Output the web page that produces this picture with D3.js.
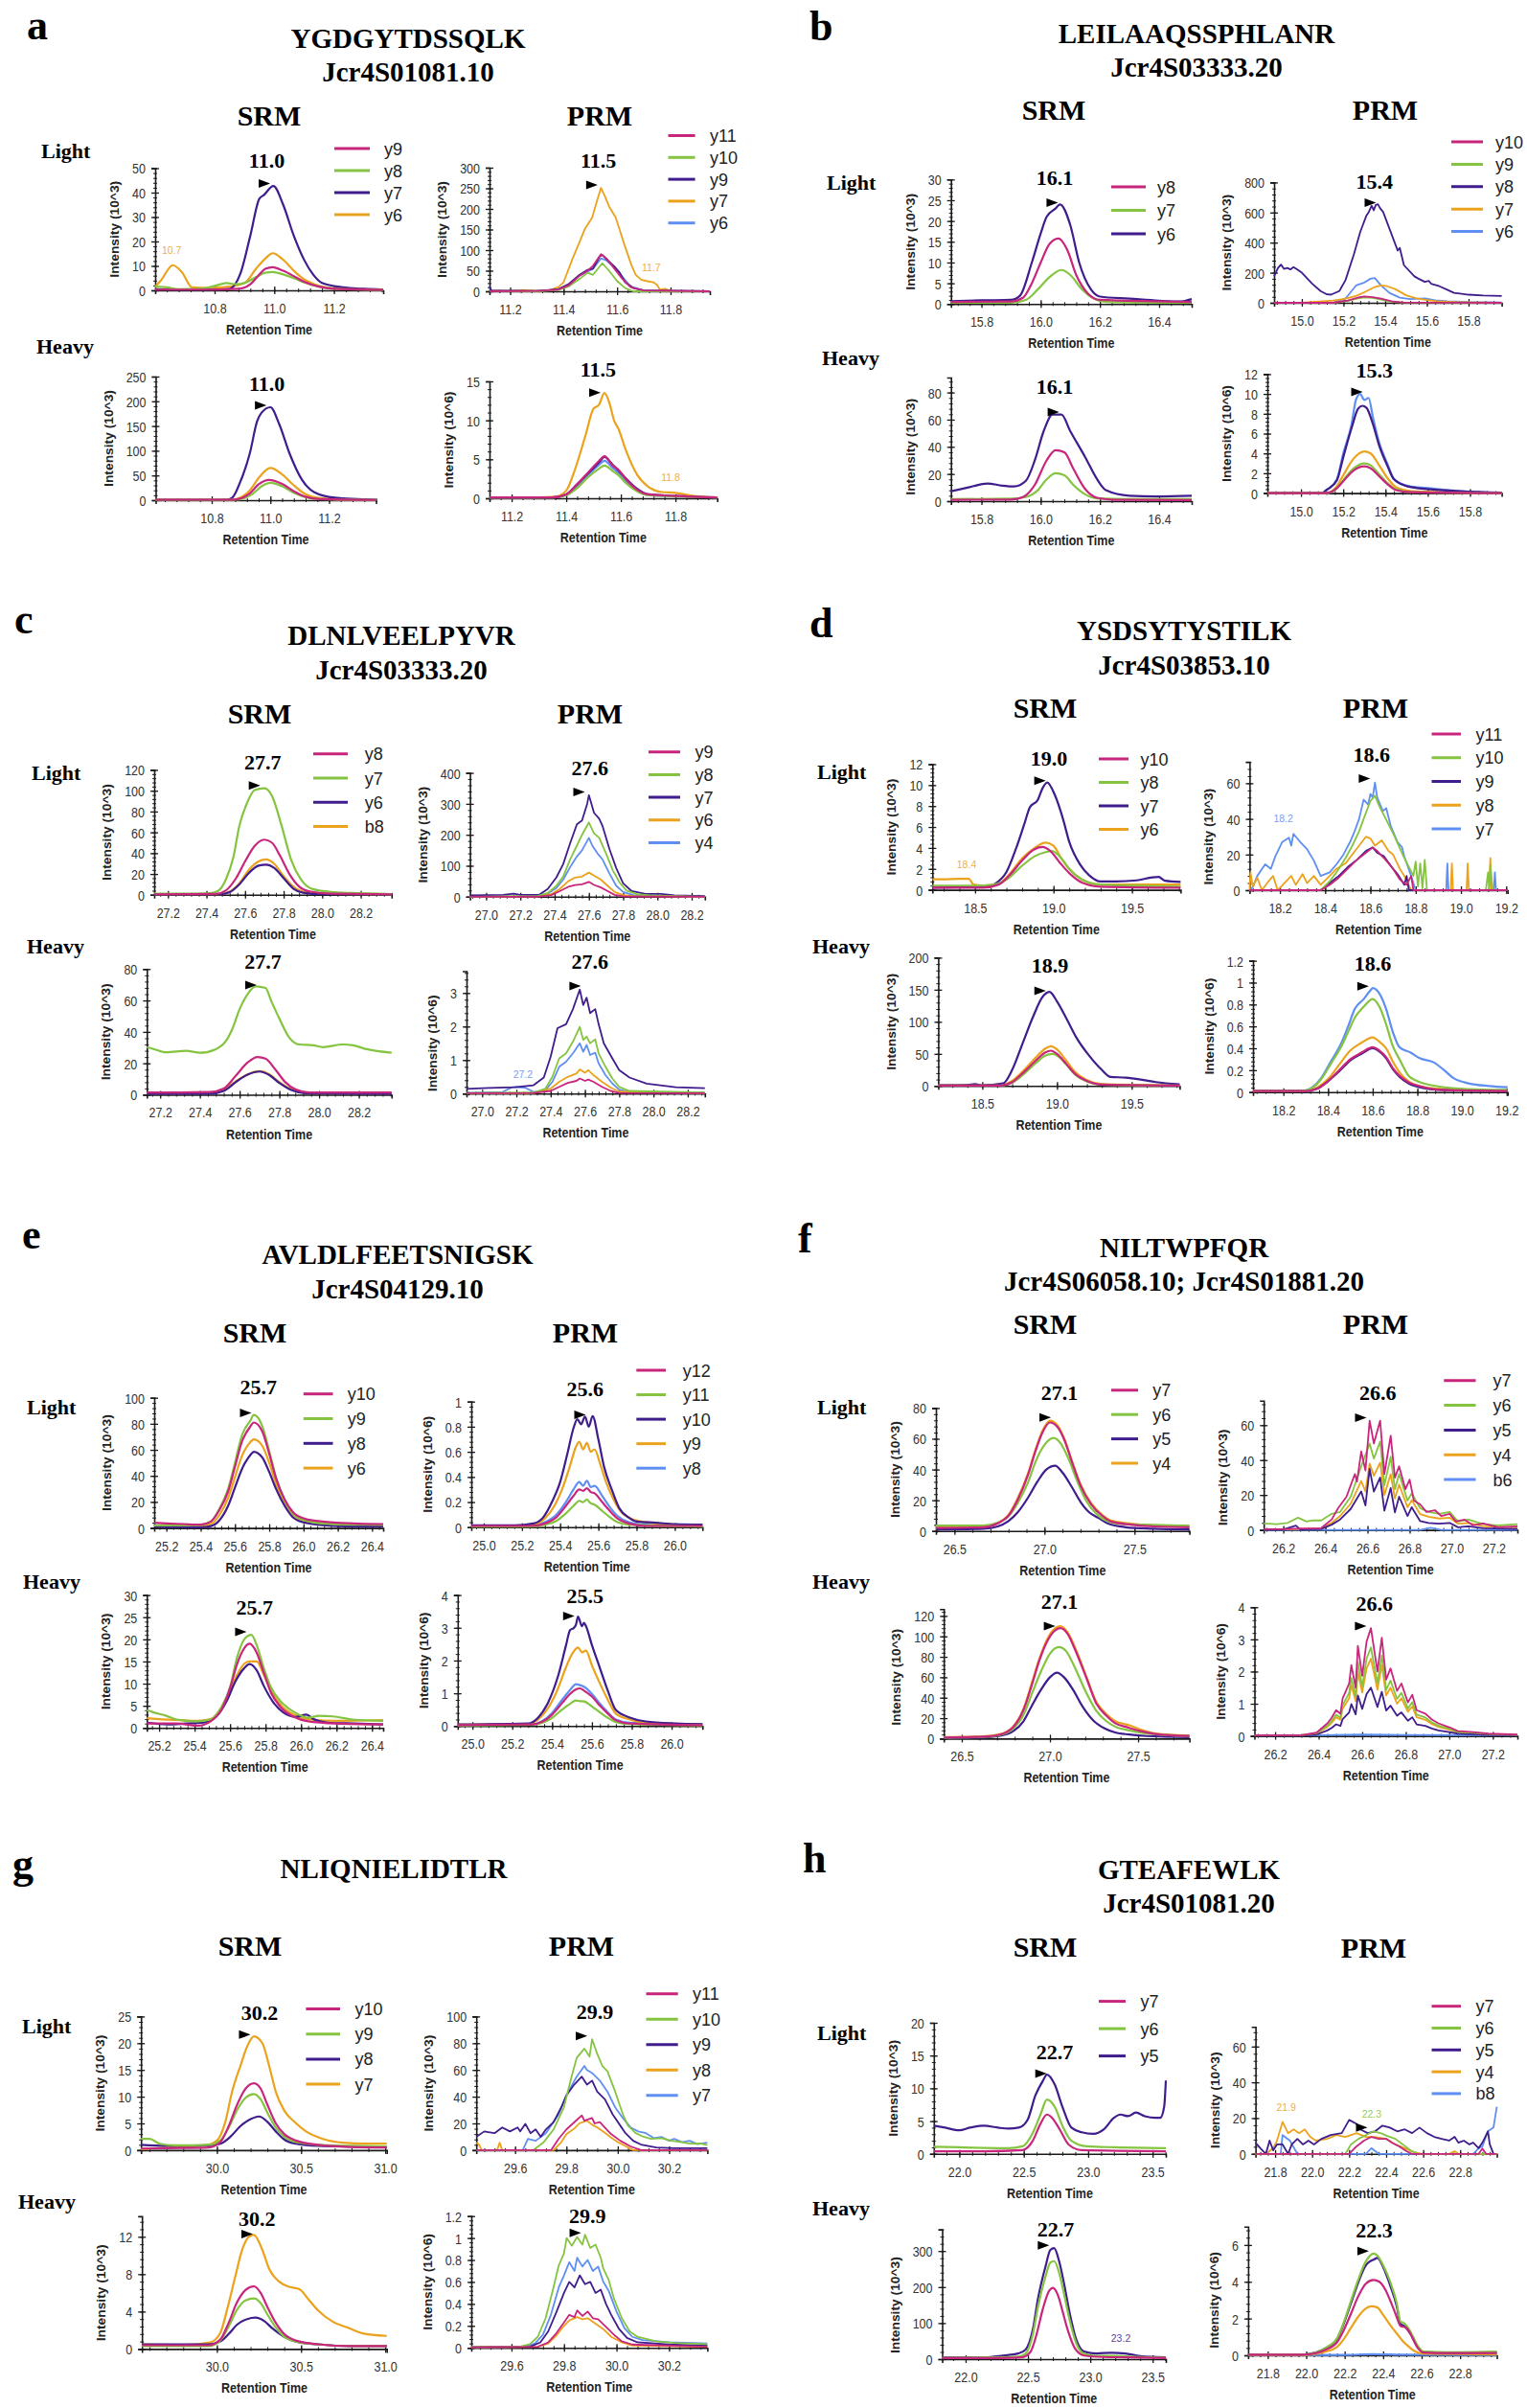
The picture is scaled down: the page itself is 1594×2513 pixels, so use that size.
<!DOCTYPE html>
<html><head><meta charset="utf-8">
<script src="https://cdn.jsdelivr.net/npm/d3@7"></script>
<style>body{margin:0;background:#fff}svg{display:block}</style>
</head><body>
<svg id="c" width="1594" height="2513"></svg>
<script>
// ---------------- DATA: [retention time, intensity] ----------------
// Panel a
const aSL_y9=[[10.601,0.3],[10.8,0.3],[10.88,0.6],[10.92,2.5],[10.95,6.5],[10.97,8.8],[10.995,9.5],[11.03,8],[11.07,5.5],[11.1,3.5],[11.15,1.5],[11.2,0.6],[11.365,0.2]];
const aSL_y8=[[10.601,1.5],[10.64,1.2],[10.68,0.5],[10.75,0.6],[10.8,1.8],[10.84,3],[10.87,2.5],[10.9,3],[10.94,5.5],[10.97,7.2],[10.995,7.5],[11.03,6.5],[11.07,4.8],[11.1,3.2],[11.15,1.5],[11.2,0.6],[11.365,0.2]];
const aSL_y7=[[10.601,0.5],[10.7,0.3],[10.8,0.3],[10.85,0.6],[10.886,6.7],[10.92,22.5],[10.95,37.5],[10.965,39],[10.997,42.7],[11.03,35],[11.065,22.5],[11.1,12.5],[11.13,6.5],[11.16,3],[11.23,1.2],[11.3,0.6],[11.365,0.3]];
const aSL_y6=[[10.601,1.5],[10.62,4],[10.66,10.3],[10.69,7.5],[10.725,1.2],[10.78,1],[10.85,1.5],[10.9,3],[10.94,9],[10.97,13],[10.995,15.2],[11.03,12.5],[11.07,7.5],[11.1,4.5],[11.15,1.8],[11.2,0.8],[11.365,0.3]];
const aPL_y11=[[11.123,0],[11.3,1],[11.38,4],[11.42,15],[11.46,38],[11.49,50],[11.51,62],[11.54,90],[11.56,80],[11.59,55],[11.62,30],[11.65,10],[11.7,2],[11.947,0]];
const aPL_y10=[[11.123,0],[11.3,0],[11.38,3],[11.42,12],[11.46,30],[11.49,45],[11.51,40],[11.545,68],[11.57,50],[11.6,25],[11.63,8],[11.66,0],[11.947,0]];
const aPL_y9=[[11.123,12],[11.13,2],[11.3,1],[11.38,5],[11.42,18],[11.46,40],[11.49,52],[11.51,55],[11.535,85],[11.545,88],[11.56,78],[11.59,60],[11.61,45],[11.63,22],[11.66,8],[11.7,2],[11.947,0]];
const aPL_y7=[[11.123,2],[11.2,1],[11.25,3],[11.3,1],[11.35,3],[11.38,10],[11.4,22],[11.434,80],[11.46,120],[11.48,152],[11.507,179],[11.525,220],[11.54,251],[11.555,230],[11.57,206],[11.595,179],[11.626,116],[11.654,63],[11.67,40],[11.69,28],[11.71,25],[11.736,22],[11.75,15],[11.76,4],[11.78,6],[11.8,1],[11.947,0]];
const aPL_y6=[[11.123,10],[11.13,1],[11.3,1],[11.38,4],[11.42,16],[11.46,38],[11.49,48],[11.51,55],[11.54,80],[11.56,75],[11.59,58],[11.62,35],[11.65,12],[11.7,2],[11.947,0]];
const aSH_y9=[[10.609,1],[10.87,1],[10.9,4],[10.93,14],[10.96,32],[10.995,41],[11.04,33],[11.08,18],[11.12,7],[11.17,2],[11.36,0.5]];
const aSH_y8=[[10.609,1],[10.88,1],[10.91,4],[10.94,13],[10.97,28],[11.0,35],[11.04,28],[11.08,15],[11.12,6],[11.17,2],[11.36,0.5]];
const aSH_y7=[[10.609,1],[10.85,1],[10.87,5],[10.896,35],[10.93,95],[10.955,160],[10.97,177],[11.0,188],[11.03,154],[11.065,95],[11.107,42],[11.15,16],[11.22,5],[11.36,1]];
const aSH_y6=[[10.609,1],[10.87,1],[10.9,6],[10.93,20],[10.96,45],[11.0,65],[11.04,52],[11.08,30],[11.12,12],[11.17,4],[11.25,1],[11.36,0.5]];
const aPH_y11=[[11.119,0.1],[11.35,0.1],[11.4,0.5],[11.44,1.8],[11.48,3.3],[11.52,4.8],[11.54,5.4],[11.57,4.2],[11.59,3.7],[11.62,2.4],[11.66,1.1],[11.7,0.5],[11.8,0.3],[11.953,0.1]];
const aPH_y10=[[11.119,0.1],[11.35,0.1],[11.4,0.4],[11.44,1.3],[11.48,2.7],[11.52,3.8],[11.54,4.2],[11.57,3.5],[11.59,3],[11.62,1.9],[11.66,0.9],[11.7,0.4],[11.953,0.1]];
const aPH_y9=[[11.119,0.1],[11.35,0.1],[11.4,0.5],[11.44,1.8],[11.48,3.2],[11.52,4.6],[11.54,5.3],[11.57,4.3],[11.59,3.6],[11.62,2.5],[11.66,1.2],[11.7,0.5],[11.8,0.3],[11.953,0.1]];
const aPH_y7=[[11.119,0.1],[11.3,0.1],[11.36,0.2],[11.4,1],[11.43,3.5],[11.47,8],[11.5,11.5],[11.52,12],[11.54,13.5],[11.56,12],[11.575,10],[11.59,9],[11.62,6],[11.66,3],[11.7,1.5],[11.75,0.8],[11.8,0.7],[11.85,0.4],[11.9,0.2],[11.953,0.1]];
const aPH_y6=[[11.119,0.1],[11.35,0.1],[11.4,0.4],[11.44,1.5],[11.48,3],[11.52,4.3],[11.54,4.8],[11.57,3.9],[11.59,3.3],[11.62,2.2],[11.66,1],[11.7,0.4],[11.953,0.1]];
// Panel b
const bSL_y8=[[15.697,0.5],[15.9,0.6],[15.94,1.5],[15.97,5],[16.0,10],[16.03,14.5],[16.06,15.8],[16.09,13],[16.12,7],[16.16,2.5],[16.2,1],[16.51,0.5]];
const bSL_y7=[[15.697,0.3],[15.9,0.3],[15.95,1],[15.99,3.5],[16.03,6.5],[16.07,8.2],[16.1,7],[16.14,3.5],[16.18,1.3],[16.22,0.5],[16.51,0.3]];
const bSL_y6=[[15.697,0.7],[15.8,0.9],[15.9,1],[15.93,2],[15.97,10],[16.0,17],[16.02,21],[16.05,23],[16.065,24],[16.1,19],[16.13,10],[16.17,3.5],[16.2,1.8],[16.3,1.3],[16.4,0.8],[16.47,0.6],[16.51,1.2]];
const bPL_y10=[[14.867,0],[15.15,0],[15.22,15],[15.27,35],[15.3,42],[15.34,38],[15.38,28],[15.43,10],[15.48,2],[15.959,0]];
const bPL_y9=[[14.867,0],[15.15,0],[15.22,12],[15.27,30],[15.3,36],[15.34,33],[15.38,22],[15.43,8],[15.48,2],[15.959,0]];
const bPL_y8=[[14.867,176],[14.885,230],[14.9,254],[14.915,225],[14.93,232],[14.945,222],[14.96,237],[14.98,220],[15.0,200],[15.05,127],[15.09,78],[15.12,56],[15.14,54],[15.18,78],[15.21,152],[15.25,323],[15.28,470],[15.31,580],[15.32,600],[15.335,645],[15.345,615],[15.355,650],[15.365,655],[15.375,630],[15.39,604],[15.42,494],[15.46,347],[15.47,365],[15.49,250],[15.54,176],[15.56,160],[15.59,139],[15.61,145],[15.62,127],[15.66,110],[15.7,85],[15.73,66],[15.8,54],[15.87,49],[15.959,46]];
const bPL_y7=[[14.867,0],[15.0,0],[15.05,5],[15.15,15],[15.2,25],[15.26,45],[15.3,70],[15.35,105],[15.38,115],[15.41,110],[15.45,90],[15.5,50],[15.55,30],[15.6,18],[15.65,10],[15.75,4],[15.959,0]];
const bPL_y6=[[14.867,0],[15.15,0],[15.21,29],[15.26,115],[15.3,135],[15.33,160],[15.35,165],[15.38,115],[15.42,66],[15.47,34],[15.52,25],[15.59,29],[15.64,17],[15.7,10],[15.8,5],[15.959,2]];
const bSH_y8=[[15.697,1],[15.9,1.2],[15.94,3],[15.98,12],[16.02,30],[16.05,37.5],[16.08,36],[16.11,24],[16.15,9],[16.19,2.5],[16.25,1],[16.51,0.8]];
const bSH_y7=[[15.697,1.5],[15.9,1.8],[15.95,3],[15.99,8],[16.02,16],[16.05,20.5],[16.08,19],[16.11,12],[16.15,5],[16.19,2],[16.3,1.5],[16.51,1.5]];
const bSH_y6=[[15.697,7.3],[15.76,10.3],[15.82,13],[15.87,11.4],[15.91,10.8],[15.95,15],[15.98,30],[16.01,51.5],[16.04,63.7],[16.07,63.7],[16.1,51.5],[16.15,32.5],[16.19,16.3],[16.22,8.1],[16.3,4],[16.39,3.5],[16.51,4]];
const bPH_y10=[[14.841,0],[15.12,0],[15.17,0.5],[15.2,1.2],[15.25,2.3],[15.3,2.7],[15.33,2.5],[15.37,1.7],[15.41,0.9],[15.45,0.3],[15.52,0.1],[15.95,0]];
const bPH_y9=[[14.841,0],[15.12,0],[15.17,0.5],[15.2,1.3],[15.25,2.5],[15.3,3],[15.33,2.8],[15.37,1.9],[15.41,1],[15.45,0.4],[15.52,0.1],[15.95,0]];
const bPH_y8=[[14.841,0],[15.1,0],[15.12,0.3],[15.17,1.3],[15.2,3.6],[15.24,6.6],[15.27,8.5],[15.29,8.8],[15.31,8.6],[15.34,7],[15.37,4.8],[15.41,2.7],[15.44,1.4],[15.5,0.7],[15.6,0.4],[15.95,0.05]];
const bPH_y7=[[14.841,0],[15.12,0],[15.17,0.7],[15.2,1.8],[15.25,3.5],[15.3,4.2],[15.33,4],[15.37,2.8],[15.41,1.5],[15.45,0.6],[15.52,0.2],[15.95,0]];
const bPH_y6=[[14.841,0],[15.1,0],[15.12,0.3],[15.17,1.4],[15.2,4],[15.24,7],[15.26,9.4],[15.28,10],[15.3,9.4],[15.32,9.6],[15.34,7.7],[15.37,5.1],[15.41,2.9],[15.44,1.4],[15.51,0.7],[15.6,0.5],[15.7,0.3],[15.81,0.1],[15.95,0.05]];
// Panel c
const cSL_y8=[[27.129,0.5],[27.45,0.8],[27.5,4],[27.55,15],[27.6,32],[27.65,47],[27.7,53],[27.74,50],[27.78,38],[27.83,20],[27.88,8],[27.94,3],[28.05,1],[28.36,0.5]];
const cSL_y7=[[27.129,1],[27.3,1],[27.42,1.5],[27.46,3.7],[27.5,14.6],[27.54,36.6],[27.57,66],[27.61,88],[27.65,100.6],[27.7,102.4],[27.74,95],[27.79,66],[27.84,33],[27.89,14.6],[27.95,5.5],[28.06,2.6],[28.2,1.5],[28.36,0.7]];
const cSL_y6=[[27.129,0.3],[27.47,0.5],[27.52,2.5],[27.57,10],[27.62,21],[27.67,28],[27.71,29],[27.75,26],[27.8,16],[27.85,6],[27.9,2],[28.0,0.5],[28.36,0.3]];
const cSL_b8=[[27.129,0.3],[27.47,0.5],[27.52,3],[27.57,11],[27.62,24],[27.67,32],[27.71,34],[27.75,30],[27.8,18],[27.85,8],[27.9,3],[28.0,1],[28.36,0.3]];
const cPL_y9=[[26.906,0],[27.3,0],[27.38,5],[27.43,18],[27.48,32],[27.52,38],[27.56,40],[27.6,48],[27.63,38],[27.67,30],[27.71,18],[27.75,6],[27.8,1],[28.277,0]];
const cPL_y8=[[26.906,0],[27.3,2],[27.36,12],[27.41,35],[27.45,65],[27.49,120],[27.53,165],[27.56,200],[27.6,240],[27.63,205],[27.66,190],[27.7,140],[27.74,85],[27.78,45],[27.82,20],[27.88,8],[27.95,4],[28.277,0]];
const cPL_y7=[[26.906,4],[27.0,5],[27.1,6],[27.16,10],[27.2,6],[27.31,6],[27.36,25],[27.41,62],[27.45,105],[27.49,172],[27.53,234],[27.56,246],[27.59,300],[27.6,328],[27.63,271],[27.66,252],[27.68,228],[27.72,154],[27.76,92],[27.8,43],[27.85,18],[27.93,9],[28.02,9],[28.1,4],[28.277,2]];
const cPL_y6=[[26.906,0],[27.3,1],[27.38,8],[27.43,25],[27.48,50],[27.52,62],[27.56,65],[27.6,78],[27.63,68],[27.67,55],[27.71,35],[27.75,15],[27.8,5],[27.86,2],[28.277,0]];
const cPL_y4=[[26.906,0],[27.3,2],[27.36,10],[27.41,28],[27.45,55],[27.49,95],[27.53,130],[27.56,150],[27.6,190],[27.62,165],[27.65,140],[27.68,120],[27.72,75],[27.76,35],[27.8,15],[27.86,5],[28.277,0]];
const cSH_y8=[[27.133,1.5],[27.3,1.5],[27.45,1.8],[27.52,4],[27.58,12],[27.64,20.5],[27.69,24],[27.73,23],[27.78,16],[27.83,8],[27.88,3.5],[27.95,1.5],[28.365,1.5]];
const cSH_y7=[[27.133,30.3],[27.17,29],[27.23,27],[27.33,28],[27.4,26.7],[27.48,29],[27.53,34],[27.565,42.4],[27.6,54.5],[27.64,64],[27.68,69],[27.73,68],[27.76,59.4],[27.8,48.5],[27.85,36.4],[27.9,32],[27.97,31.5],[28.02,30.3],[28.12,32],[28.17,31.5],[28.24,29],[28.365,26.7]];
const cSH_y6=[[27.133,0.5],[27.45,0.7],[27.52,2.5],[27.58,8],[27.64,12.8],[27.7,14.8],[27.75,12.5],[27.8,7.5],[27.86,3],[27.93,1],[28.365,0.5]];
const cSH_b8=[[27.133,0.8],[27.45,1],[27.52,3],[27.58,8.5],[27.64,13],[27.7,15],[27.75,13],[27.8,8],[27.86,3.5],[27.93,1.2],[28.365,0.8]];
const cPH_y9=[[26.909,0.01],[27.3,0.02],[27.4,0.08],[27.45,0.2],[27.5,0.32],[27.55,0.38],[27.57,0.45],[27.6,0.38],[27.62,0.42],[27.65,0.35],[27.7,0.2],[27.75,0.08],[27.8,0.02],[28.3,0.01]];
const cPH_y8=[[26.909,0.02],[27.3,0.03],[27.37,0.15],[27.41,0.5],[27.45,1.05],[27.49,1.2],[27.53,1.55],[27.57,1.99],[27.59,1.6],[27.61,1.7],[27.63,1.5],[27.66,1.62],[27.68,1.2],[27.72,0.8],[27.76,0.45],[27.8,0.2],[27.86,0.08],[28.3,0.03]];
const cPH_y7=[[26.909,0.14],[27.04,0.17],[27.19,0.19],[27.3,0.25],[27.36,0.48],[27.4,1.1],[27.44,1.95],[27.49,2.07],[27.53,2.52],[27.57,3.1],[27.59,2.64],[27.61,2.86],[27.63,2.4],[27.66,2.52],[27.68,2.07],[27.71,1.5],[27.76,1.05],[27.8,0.7],[27.86,0.48],[27.96,0.3],[28.13,0.19],[28.3,0.16]];
const cPH_y6=[[26.909,0.01],[27.3,0.02],[27.4,0.15],[27.45,0.35],[27.5,0.5],[27.55,0.6],[27.57,0.72],[27.6,0.62],[27.62,0.7],[27.65,0.55],[27.7,0.35],[27.75,0.18],[27.8,0.06],[28.3,0.01]];
const cPH_y4=[[26.909,0.02],[27.12,0.05],[27.18,0.2],[27.25,0.18],[27.3,0.05],[27.37,0.1],[27.41,0.35],[27.45,0.8],[27.49,0.95],[27.53,1.2],[27.57,1.5],[27.59,1.25],[27.61,1.45],[27.63,1.15],[27.66,1.22],[27.68,0.9],[27.72,0.55],[27.76,0.3],[27.8,0.12],[27.86,0.05],[28.3,0.02]];
// Panel d
const dSL_y10=[[18.228,0.2],[18.55,0.2],[18.65,0.5],[18.72,1.4],[18.8,2.8],[18.87,3.8],[18.93,4.1],[18.98,3.7],[19.04,2.6],[19.1,1.6],[19.18,0.7],[19.3,0.3],[19.81,0.2]];
const dSL_y8=[[18.228,0.4],[18.55,0.4],[18.65,0.6],[18.72,1.2],[18.8,2.3],[18.88,3.2],[18.95,3.6],[18.99,3.7],[19.05,3],[19.1,2],[19.18,1],[19.3,0.5],[19.81,0.3]];
const dSL_y7=[[18.228,0.2],[18.4,0.25],[18.56,0.25],[18.63,0.6],[18.7,1.7],[18.76,3.9],[18.81,6.1],[18.85,7.9],[18.9,8.6],[18.93,9.7],[18.96,10.25],[19.01,9],[19.06,6.8],[19.1,4.6],[19.17,2.4],[19.23,1.35],[19.3,0.8],[19.4,0.8],[19.53,0.9],[19.62,1.16],[19.67,1.24],[19.71,0.87],[19.81,0.76]];
const dSL_y6=[[18.228,1],[18.3,1],[18.4,1.05],[18.46,1.05],[18.49,0.5],[18.55,0.4],[18.65,0.6],[18.72,1.5],[18.8,3],[18.88,4],[18.95,4.5],[19.0,4.2],[19.05,3],[19.1,2],[19.18,1],[19.3,0.5],[19.6,0.5],[19.81,0.5]];
const dPL_y11=[[18.066,0],[18.38,0],[18.42,3],[18.46,7],[18.5,12],[18.54,17],[18.58,21],[18.61,24],[18.63,22],[18.66,18],[18.7,12],[18.73,6],[18.76,3],[18.78,8],[18.79,0],[19.206,0]];
const dPL_y10=[[18.066,0],[18.38,0],[18.42,5],[18.45,10],[18.49,18],[18.52,25],[18.55,33],[18.57,40],[18.6,50],[18.62,53],[18.64,47],[18.66,42],[18.7,32],[18.75,18],[18.79,8],[18.8,16],[18.81,2],[18.82,15],[18.83,1],[18.84,17],[18.85,0],[19.11,0],[19.12,10],[19.125,0],[19.13,14],[19.14,0],[19.206,0]];
const dPL_y9=[[18.066,0],[18.38,0],[18.42,4],[18.46,8],[18.5,13],[18.54,17],[18.58,22],[18.61,24],[18.63,21],[18.66,19],[18.7,12],[18.72,9],[18.75,3],[18.76,8],[18.77,0],[19.206,0]];
const dPL_y8=[[18.066,0],[18.07,10],[18.08,2],[18.1,7],[18.12,0],[18.15,5],[18.17,8],[18.19,0],[18.22,4],[18.25,8],[18.27,3],[18.3,9],[18.32,4],[18.35,8],[18.38,3],[18.42,8],[18.45,12],[18.49,15],[18.52,20],[18.55,25],[18.58,30],[18.6,29],[18.62,25],[18.65,28],[18.68,22],[18.7,20],[18.73,12],[18.75,8],[18.78,0],[18.955,0],[18.96,15],[18.965,0],[19.025,0],[19.03,15],[19.035,0],[19.125,0],[19.13,18],[19.135,0],[19.206,0]];
const dPL_y7=[[18.066,0],[18.08,1.7],[18.1,8],[18.135,14.5],[18.16,12],[18.18,19],[18.21,27],[18.24,29.5],[18.25,25],[18.26,31.6],[18.29,27],[18.32,23],[18.35,16.6],[18.38,8],[18.42,10],[18.45,14.5],[18.48,19.8],[18.51,27],[18.53,33],[18.55,40],[18.57,50.8],[18.59,48],[18.6,54],[18.61,52],[18.62,60.4],[18.63,52],[18.655,44.4],[18.67,46],[18.69,35.9],[18.72,27],[18.74,24],[18.75,18.8],[18.78,8],[18.8,0],[18.935,0],[18.94,15],[18.945,0],[19.145,0],[19.15,10],[19.155,0],[19.206,0]];
const dSH_y10=[[18.205,0.5],[18.62,0.5],[18.7,6],[18.78,22],[18.86,40],[18.92,52],[18.96,55],[19.0,50],[19.06,35],[19.12,19],[19.2,8],[19.3,2],[19.821,0.5]];
const dSH_y8=[[18.205,0.5],[18.62,0.5],[18.7,5],[18.78,19],[18.86,36],[18.92,47],[18.97,50],[19.01,46],[19.06,34],[19.12,18],[19.2,7],[19.3,2],[19.821,0.5]];
const dSH_y7=[[18.205,1],[18.4,1.5],[18.45,3],[18.5,1],[18.64,4],[18.7,25],[18.77,66.5],[18.84,108],[18.9,137.7],[18.95,146.6],[19.0,131.8],[19.07,102],[19.13,75.4],[19.21,48.7],[19.3,25],[19.36,14],[19.46,13],[19.56,10],[19.66,6],[19.821,2.4]];
const dSH_y6=[[18.205,1],[18.62,1],[18.7,8],[18.78,25],[18.86,45],[18.92,58],[18.96,62],[19.0,57],[19.06,40],[19.12,22],[19.2,9],[19.3,3],[19.821,1]];
const dPH_y11=[[18.064,0.01],[18.3,0.01],[18.35,0.03],[18.4,0.1],[18.45,0.2],[18.5,0.3],[18.55,0.36],[18.6,0.41],[18.63,0.38],[18.66,0.32],[18.69,0.22],[18.72,0.15],[18.76,0.09],[18.82,0.05],[18.9,0.02],[19.204,0.01]];
const dPH_y10=[[18.064,0.01],[18.28,0.01],[18.33,0.04],[18.37,0.12],[18.41,0.25],[18.46,0.42],[18.49,0.55],[18.52,0.68],[18.56,0.78],[18.6,0.85],[18.63,0.78],[18.66,0.62],[18.69,0.42],[18.72,0.3],[18.76,0.15],[18.8,0.1],[18.9,0.05],[19.0,0.03],[19.204,0.02]];
const dPH_y9=[[18.064,0.01],[18.3,0.01],[18.35,0.03],[18.4,0.1],[18.45,0.19],[18.5,0.29],[18.55,0.35],[18.6,0.4],[18.63,0.37],[18.66,0.31],[18.69,0.21],[18.72,0.14],[18.76,0.08],[18.82,0.04],[18.9,0.02],[19.204,0.01]];
const dPH_y8=[[18.064,0.01],[18.3,0.01],[18.35,0.04],[18.4,0.12],[18.45,0.25],[18.5,0.38],[18.55,0.45],[18.6,0.5],[18.63,0.46],[18.66,0.4],[18.69,0.28],[18.72,0.18],[18.76,0.1],[18.82,0.05],[18.9,0.03],[19.204,0.01]];
const dPH_y7=[[18.064,0.01],[18.28,0.01],[18.33,0.045],[18.37,0.13],[18.41,0.27],[18.46,0.45],[18.49,0.6],[18.52,0.76],[18.56,0.85],[18.59,0.93],[18.6,0.95],[18.63,0.9],[18.66,0.76],[18.69,0.55],[18.72,0.41],[18.77,0.36],[18.81,0.31],[18.875,0.27],[18.92,0.2],[18.96,0.13],[19.03,0.08],[19.12,0.056],[19.204,0.045]];
// Panel e
const eSL_y10=[[25.129,4],[25.2,3.5],[25.3,3],[25.4,2.5],[25.46,5],[25.51,14],[25.56,28],[25.6,47],[25.64,66],[25.69,78],[25.71,81],[25.76,74],[25.8,57],[25.84,38],[25.89,22],[25.94,12],[26.01,7],[26.11,5],[26.29,3.5],[26.465,3]];
const eSL_y9=[[25.129,2],[25.37,2],[25.46,5],[25.51,15],[25.56,30],[25.6,50],[25.64,70.8],[25.69,82.5],[25.71,86.8],[25.76,78],[25.8,59],[25.84,38.6],[25.89,21],[25.94,10.8],[26.01,5.8],[26.11,3.5],[26.29,2.6],[26.465,2.6]];
const eSL_y8=[[25.129,1],[25.4,0.5],[25.46,1.5],[25.51,6],[25.56,17],[25.6,31],[25.64,45],[25.69,56],[25.71,58.5],[25.76,54],[25.8,43],[25.84,30],[25.89,17],[25.94,8],[26.01,4],[26.2,1.5],[26.465,1]];
const eSL_y6=[[25.129,1.5],[25.4,1.5],[25.46,3],[25.51,10],[25.56,23],[25.6,39],[25.64,55],[25.69,66],[25.71,68],[25.76,63],[25.8,50],[25.84,34],[25.89,19],[25.94,10],[26.01,5],[26.2,3],[26.465,2]];
const ePL_y12=[[24.935,0.01],[25.25,0.01],[25.32,0.03],[25.38,0.08],[25.43,0.17],[25.47,0.25],[25.5,0.3],[25.52,0.29],[25.54,0.31],[25.56,0.28],[25.58,0.27],[25.62,0.2],[25.66,0.13],[25.7,0.07],[25.76,0.03],[25.85,0.01],[26.145,0.01]];
const ePL_y11=[[24.935,0.005],[25.25,0.005],[25.32,0.02],[25.38,0.05],[25.43,0.11],[25.47,0.17],[25.5,0.21],[25.52,0.2],[25.54,0.22],[25.56,0.19],[25.58,0.18],[25.62,0.13],[25.66,0.08],[25.7,0.04],[25.76,0.02],[26.145,0.005]];
const ePL_y10=[[24.935,0.015],[25.16,0.015],[25.26,0.03],[25.31,0.076],[25.36,0.21],[25.4,0.36],[25.44,0.6],[25.47,0.79],[25.49,0.86],[25.51,0.82],[25.53,0.88],[25.55,0.8],[25.57,0.885],[25.6,0.7],[25.63,0.48],[25.67,0.3],[25.71,0.15],[25.76,0.076],[25.8,0.045],[25.9,0.036],[26.0,0.024],[26.145,0.02]];
const ePL_y9=[[24.935,0.01],[25.2,0.01],[25.28,0.03],[25.32,0.07],[25.37,0.17],[25.41,0.3],[25.45,0.48],[25.48,0.63],[25.5,0.68],[25.52,0.62],[25.54,0.67],[25.56,0.6],[25.58,0.62],[25.61,0.5],[25.64,0.36],[25.68,0.22],[25.72,0.12],[25.77,0.07],[25.85,0.04],[26.0,0.02],[26.145,0.02]];
const ePL_y8=[[24.935,0.01],[25.25,0.01],[25.32,0.04],[25.38,0.1],[25.43,0.2],[25.47,0.3],[25.5,0.36],[25.52,0.33],[25.54,0.37],[25.56,0.32],[25.58,0.33],[25.62,0.25],[25.66,0.16],[25.7,0.09],[25.76,0.04],[25.85,0.02],[26.145,0.01]];
const eSH_y10=[[25.131,1],[25.3,1],[25.42,0.5],[25.49,1.5],[25.55,4],[25.6,9],[25.64,14.5],[25.68,18],[25.71,19],[25.75,17],[25.79,12.5],[25.83,8],[25.89,4.5],[25.96,2.5],[26.04,1.5],[26.2,1],[26.463,0.8]];
const eSH_y9=[[25.131,4],[25.17,3.5],[25.24,2.75],[25.3,1.9],[25.41,1.5],[25.49,1.9],[25.54,4],[25.6,9.2],[25.64,16],[25.68,20],[25.72,21],[25.75,18.7],[25.79,13.5],[25.83,9.2],[25.89,5.8],[25.96,3.6],[26.04,2.3],[26.1,2.75],[26.18,2.6],[26.29,1.9],[26.463,1.6]];
const eSH_y8=[[25.131,1.2],[25.25,0.8],[25.35,1],[25.45,1.2],[25.52,2.5],[25.58,6],[25.63,10.5],[25.68,13.5],[25.71,14.4],[25.75,13],[25.79,9.5],[25.84,6],[25.9,3.5],[25.97,2.5],[26.03,3],[26.07,2],[26.15,1.2],[26.3,1],[26.463,0.8]];
const eSH_y6=[[25.131,2.2],[25.2,2],[25.3,1.8],[25.42,1.6],[25.49,2],[25.55,4.5],[25.6,8.5],[25.64,12],[25.68,14.5],[25.71,15],[25.75,15],[25.79,12],[25.83,8.5],[25.89,5],[25.96,3],[26.04,2],[26.2,1.6],[26.463,1.8]];
const ePH_y12=[[24.926,0.03],[25.3,0.05],[25.35,0.13],[25.4,0.35],[25.45,0.7],[25.49,0.98],[25.52,1.12],[25.54,1.15],[25.56,1.08],[25.6,0.9],[25.64,0.62],[25.68,0.38],[25.72,0.18],[25.79,0.08],[26.155,0.03]];
const ePH_y11=[[24.926,0.02],[25.3,0.04],[25.35,0.1],[25.4,0.25],[25.45,0.5],[25.49,0.68],[25.52,0.78],[25.54,0.76],[25.56,0.75],[25.6,0.6],[25.64,0.42],[25.68,0.25],[25.72,0.12],[25.79,0.06],[26.155,0.02]];
const ePH_y10=[[24.926,0.05],[25.28,0.08],[25.33,0.26],[25.38,0.72],[25.43,1.53],[25.47,2.47],[25.49,2.93],[25.51,3.0],[25.52,3.1],[25.53,3.34],[25.55,3.05],[25.56,3.15],[25.57,3.05],[25.6,2.47],[25.64,1.77],[25.68,1.07],[25.72,0.49],[25.79,0.26],[25.87,0.14],[26.02,0.08],[26.155,0.06]];
const ePH_y9=[[24.926,0.04],[25.28,0.06],[25.33,0.2],[25.38,0.55],[25.43,1.15],[25.47,1.8],[25.5,2.2],[25.53,2.4],[25.55,2.25],[25.57,2.3],[25.6,1.85],[25.64,1.3],[25.68,0.8],[25.72,0.38],[25.79,0.2],[25.87,0.1],[26.155,0.05]];
const ePH_y8=[[24.926,0.03],[25.3,0.05],[25.35,0.15],[25.4,0.4],[25.45,0.8],[25.49,1.1],[25.52,1.28],[25.54,1.25],[25.56,1.2],[25.6,0.98],[25.64,0.68],[25.68,0.42],[25.72,0.2],[25.79,0.1],[26.155,0.04]];
// Panel f
const fSL_y7=[[26.397,2],[26.66,2.5],[26.74,5],[26.8,10],[26.85,20],[26.91,37],[26.95,52],[26.99,64.4],[27.03,70.6],[27.07,68],[27.11,59.4],[27.15,45.8],[27.2,29.7],[27.26,17.3],[27.32,10],[27.37,6.2],[27.48,4.2],[27.61,3],[27.805,2.5]];
const fSL_y6=[[26.397,3.5],[26.66,3.5],[26.74,5.5],[26.8,9.5],[26.85,18],[26.91,32],[26.95,45],[27.0,56],[27.05,60.5],[27.09,57],[27.13,48],[27.18,33],[27.23,20],[27.29,11],[27.35,6.5],[27.45,4.5],[27.6,4],[27.805,3.5]];
const fSL_y5=[[26.397,1],[26.66,1.5],[26.74,3],[26.8,6.5],[26.85,12],[26.91,22],[26.96,32],[27.01,40],[27.06,42.5],[27.1,38],[27.15,29],[27.2,19],[27.25,12],[27.3,8.5],[27.35,5],[27.45,2.5],[27.6,1.5],[27.805,1]];
const fSL_y4=[[26.397,2.5],[26.66,2.8],[26.74,5.2],[26.8,10.5],[26.85,21],[26.91,38],[26.95,53],[26.99,65.5],[27.03,71.8],[27.07,69],[27.11,60],[27.15,46.5],[27.2,30.5],[27.26,18],[27.32,10.5],[27.37,6.8],[27.48,4.8],[27.61,3.5],[27.805,3]];
const fPL_y7=[[26.107,0.4],[26.2,0.4],[26.29,0.8],[26.38,1],[26.43,6],[26.46,12.4],[26.5,19],[26.52,25.5],[26.54,32],[26.55,27.7],[26.57,45],[26.59,34],[26.61,62.6],[26.63,49.5],[26.66,62.6],[26.68,32],[26.71,53.9],[26.73,29.9],[26.75,36.4],[26.78,23.3],[26.8,28.8],[26.82,16.8],[26.85,14.6],[26.88,10.3],[26.92,11.3],[26.95,8],[26.99,9.2],[27.02,4.8],[27.06,5.9],[27.1,2.6],[27.15,3.7],[27.22,1.5],[27.312,2]];
const fPL_y6=[[26.107,3.7],[26.17,3.3],[26.22,4],[26.27,7],[26.31,4.8],[26.34,5.5],[26.38,5.4],[26.43,9.2],[26.47,10.3],[26.52,19],[26.57,36.4],[26.61,49.5],[26.63,40.8],[26.66,50.6],[26.68,25.5],[26.71,41.9],[26.73,23.3],[26.75,32],[26.79,16.8],[26.81,21],[26.85,12.4],[26.89,10.3],[26.94,9.2],[26.99,10.3],[27.03,4.8],[27.08,5.9],[27.15,3.3],[27.22,2.6],[27.312,3.3]];
const fPL_y5=[[26.107,0.2],[26.2,0.3],[26.26,2.5],[26.28,0.3],[26.38,0.5],[26.43,3],[26.47,6],[26.52,12],[26.57,22],[26.59,14],[26.61,35],[26.63,22],[26.66,30],[26.68,11],[26.71,24],[26.73,10],[26.75,19],[26.79,8],[26.81,13],[26.85,5],[26.89,4],[26.94,3.5],[26.99,4],[27.03,1.5],[27.08,2],[27.15,1],[27.312,0.5]];
const fPL_y4=[[26.107,0.3],[26.2,0.3],[26.3,0.5],[26.38,1],[26.43,4],[26.47,8],[26.52,15],[26.57,28],[26.59,22],[26.61,38],[26.63,31],[26.66,38.5],[26.68,20],[26.71,32],[26.73,18],[26.75,26],[26.79,13],[26.81,17],[26.85,9],[26.89,7.5],[26.94,6.5],[26.99,7],[27.03,3.5],[27.08,4],[27.15,2],[27.312,1.5]];
const fPL_b6=[[26.107,0],[26.85,0],[26.9,1.2],[26.95,0],[27.312,0]];
const fSH_y7=[[26.398,1.1],[26.62,1.9],[26.71,3.7],[26.79,11],[26.85,28],[26.9,54],[26.94,76.4],[26.99,97],[27.03,106],[27.06,108],[27.1,102.5],[27.15,84],[27.21,57.8],[27.26,35.4],[27.32,22.4],[27.37,15],[27.44,11],[27.51,7.5],[27.6,4.5],[27.791,2.6]];
const fSH_y6=[[26.398,1],[26.62,1.6],[26.71,3.2],[26.79,9.5],[26.85,23],[26.9,45],[26.95,66],[27.0,83],[27.05,89.5],[27.09,86],[27.14,70],[27.2,47],[27.26,28],[27.32,17],[27.38,11],[27.45,8],[27.55,5],[27.791,2.5]];
const fSH_y5=[[26.398,0.5],[26.62,1],[26.71,2.5],[26.79,7],[26.85,17],[26.9,33],[26.95,48],[27.0,60],[27.04,64.5],[27.08,60],[27.13,48],[27.19,30],[27.25,17],[27.31,10],[27.37,6],[27.45,4],[27.55,2.5],[27.791,1.5]];
const fSH_y4=[[26.398,1.5],[26.62,2.2],[26.71,4],[26.79,11.5],[26.85,29],[26.9,56],[26.94,78],[26.99,99],[27.03,108],[27.06,110],[27.1,104],[27.15,86],[27.21,59],[27.26,37],[27.32,24],[27.37,17],[27.45,13],[27.51,9],[27.6,5],[27.791,3]];
const fPH_y7=[[26.105,0.02],[26.32,0.02],[26.39,0.1],[26.44,0.39],[26.46,0.57],[26.48,0.8],[26.5,0.69],[26.51,1.16],[26.54,1.63],[26.55,2.2],[26.57,1.5],[26.58,2.8],[26.6,1.87],[26.62,2.93],[26.64,3.35],[26.67,2.0],[26.69,3.05],[26.71,1.75],[26.73,2.1],[26.76,1.4],[26.78,1.63],[26.81,1.04],[26.83,1.28],[26.85,0.8],[26.89,0.69],[26.92,0.51],[26.95,0.39],[27.0,0.27],[27.04,0.15],[27.11,0.12],[27.18,0.07],[27.313,0.04]];
const fPH_y6=[[26.105,0.02],[26.32,0.02],[26.39,0.08],[26.44,0.32],[26.46,0.47],[26.48,0.66],[26.5,0.57],[26.51,0.95],[26.54,1.34],[26.55,1.8],[26.57,1.23],[26.58,2.3],[26.6,1.53],[26.62,2.4],[26.64,2.75],[26.67,1.64],[26.69,2.5],[26.71,1.43],[26.73,1.72],[26.76,1.15],[26.78,1.34],[26.81,0.85],[26.83,1.05],[26.85,0.66],[26.89,0.57],[26.92,0.42],[26.95,0.32],[27.0,0.22],[27.04,0.12],[27.11,0.1],[27.18,0.06],[27.313,0.03]];
const fPH_y5=[[26.105,0.01],[26.32,0.01],[26.39,0.04],[26.44,0.17],[26.46,0.25],[26.48,0.36],[26.5,0.31],[26.51,0.52],[26.54,0.73],[26.55,0.99],[26.57,0.67],[26.58,1.26],[26.6,0.84],[26.62,1.3],[26.64,1.5],[26.67,0.9],[26.69,1.37],[26.71,0.79],[26.73,0.94],[26.76,0.63],[26.78,0.73],[26.81,0.47],[26.83,0.58],[26.85,0.36],[26.89,0.31],[26.92,0.23],[26.95,0.17],[27.0,0.12],[27.04,0.07],[27.11,0.05],[27.18,0.03],[27.313,0.02]];
const fPH_y4=[[26.105,0.02],[26.32,0.02],[26.39,0.07],[26.44,0.28],[26.46,0.41],[26.48,0.58],[26.5,0.5],[26.51,0.84],[26.54,1.17],[26.55,1.58],[26.57,1.08],[26.58,2.0],[26.6,1.35],[26.62,2.1],[26.64,2.4],[26.67,1.44],[26.69,2.2],[26.71,1.26],[26.73,1.5],[26.76,1.0],[26.78,1.17],[26.81,0.75],[26.83,0.92],[26.85,0.58],[26.89,0.5],[26.92,0.37],[26.95,0.28],[27.0,0.19],[27.04,0.11],[27.11,0.09],[27.18,0.05],[27.313,0.03]];
const fPH_b6=[[26.105,0.02],[26.4,0.02],[26.6,0.04],[26.8,0.03],[27.313,0.02]];
// Panel g
const gSL_y10=[[29.549,0.3],[29.8,0.4],[29.95,0.5],[30.02,1.5],[30.07,4.5],[30.12,8.5],[30.17,11.5],[30.22,12.5],[30.26,11.5],[30.3,8.5],[30.35,5],[30.4,3],[30.47,1.8],[30.6,1],[30.8,0.6],[31.009,0.5]];
const gSL_y9=[[29.549,2.1],[29.6,2.1],[29.66,1.2],[29.75,0.9],[29.95,1],[30.02,1.8],[30.07,4.2],[30.12,7.5],[30.17,9.8],[30.22,10.5],[30.26,9.5],[30.3,7],[30.35,4.2],[30.4,2.5],[30.47,1.5],[30.6,1],[30.8,0.8],[31.009,0.7]];
const gSL_y8=[[29.549,1],[29.7,0.8],[29.95,0.9],[30.02,1.2],[30.08,2.5],[30.14,4.5],[30.2,5.8],[30.25,6.3],[30.3,5.3],[30.35,3.5],[30.4,2],[30.47,1.2],[30.6,0.8],[31.009,0.6]];
const gSL_y7=[[29.549,0.2],[29.73,0.5],[29.93,0.9],[30.0,1.8],[30.05,5.3],[30.09,10.9],[30.14,15.8],[30.18,19.4],[30.22,21.3],[30.27,20],[30.31,15.8],[30.35,10.9],[30.4,7.4],[30.46,5.3],[30.53,3.5],[30.63,2.1],[30.75,1.4],[30.89,1.2],[31.009,1.2]];
const gPL_y11=[[29.449,0],[29.74,0],[29.77,8.5],[29.8,15.5],[29.84,22.5],[29.86,26],[29.87,22],[29.9,24],[29.91,20],[29.93,21],[29.97,12.7],[30.01,7],[30.05,2.8],[30.09,0],[30.349,0]];
const gPL_y10=[[29.449,0],[29.67,0],[29.71,5.6],[29.75,15.5],[29.79,32],[29.82,55],[29.84,69],[29.87,76],[29.89,70],[29.9,83],[29.92,72],[29.94,63],[29.96,59],[29.99,43.7],[30.02,26.8],[30.04,18.3],[30.07,12.7],[30.1,10],[30.13,8.5],[30.17,9],[30.21,7],[30.25,6],[30.28,4.8],[30.32,5],[30.349,3.7]];
const gPL_y9=[[29.449,9.9],[29.48,14],[29.52,12.7],[29.55,17],[29.58,14],[29.61,17],[29.62,14],[29.64,19.7],[29.66,12.7],[29.68,15.5],[29.7,9.9],[29.72,15.5],[29.75,21],[29.78,32],[29.8,41],[29.83,49],[29.86,55],[29.88,49],[29.9,52],[29.92,43.7],[29.95,38],[29.98,26.8],[30.01,18.3],[30.03,12.7],[30.06,7],[30.09,4.2],[30.15,2],[30.22,1.4],[30.349,1.4]];
const gPL_y8=[[29.449,5.6],[29.46,4],[29.47,0],[29.53,0],[29.54,5.6],[29.55,0],[29.75,0],[29.78,6],[29.8,12],[29.83,16],[29.85,20],[29.88,22],[29.9,19],[29.92,17],[29.95,13],[29.97,10],[30.0,6],[30.02,4],[30.06,0],[30.349,0]];
const gPL_y7=[[29.449,0],[29.63,0],[29.65,8.5],[29.68,7],[29.72,12.7],[29.77,26.8],[29.8,41],[29.84,55],[29.87,63],[29.88,60],[29.9,57.7],[29.93,52],[29.96,43.7],[29.99,32],[30.02,24],[30.05,17],[30.08,14],[30.11,12.7],[30.14,9],[30.17,9.9],[30.2,7],[30.22,8.5],[30.25,6],[30.28,7],[30.31,4.5],[30.349,5.6]];
const gSH_y10=[[29.555,0.4],[29.95,0.4],[30.02,1],[30.07,2.8],[30.12,5],[30.17,6.3],[30.22,6.7],[30.26,6],[30.3,4.5],[30.35,2.8],[30.4,1.6],[30.47,0.9],[30.6,0.5],[30.8,0.3],[31.009,0.3]];
const gSH_y9=[[29.555,0.3],[29.95,0.3],[30.02,0.9],[30.07,2.4],[30.12,4.2],[30.17,5.2],[30.22,5.4],[30.26,4.9],[30.3,3.7],[30.35,2.3],[30.4,1.3],[30.47,0.8],[30.6,0.5],[30.8,0.3],[31.009,0.3]];
const gSH_y8=[[29.555,0.5],[29.95,0.5],[30.02,0.8],[30.07,1.6],[30.12,2.6],[30.18,3.2],[30.23,3.35],[30.28,3],[30.33,2.2],[30.4,1.3],[30.47,0.8],[30.6,0.5],[30.8,0.3],[31.009,0.3]];
const gSH_y7=[[29.555,0.5],[29.82,0.45],[29.96,0.7],[30.02,1.7],[30.06,4.15],[30.11,7.8],[30.15,10.6],[30.19,12],[30.22,12.2],[30.27,10.6],[30.31,8.6],[30.37,7.2],[30.43,6.65],[30.49,6.4],[30.54,5.4],[30.6,4.15],[30.69,2.9],[30.78,2.26],[30.86,1.7],[31.009,1.4]];
const gPH_y11=[[29.447,0.005],[29.7,0.01],[29.74,0.05],[29.77,0.13],[29.8,0.23],[29.82,0.3],[29.84,0.28],[29.85,0.34],[29.87,0.29],[29.89,0.33],[29.91,0.27],[29.93,0.26],[29.96,0.19],[29.99,0.12],[30.02,0.06],[30.06,0.03],[30.346,0.01]];
const gPH_y10=[[29.447,0.007],[29.63,0.01],[29.67,0.034],[29.7,0.1],[29.73,0.27],[29.76,0.55],[29.78,0.75],[29.8,0.86],[29.81,1.0],[29.83,0.93],[29.85,1.01],[29.87,0.94],[29.88,1.03],[29.9,0.91],[29.92,0.94],[29.94,0.82],[29.95,0.72],[29.97,0.62],[29.99,0.45],[30.02,0.27],[30.05,0.15],[30.08,0.1],[30.15,0.06],[30.22,0.045],[30.346,0.034]];
const gPH_y9=[[29.447,0.005],[29.67,0.01],[29.71,0.05],[29.74,0.15],[29.77,0.32],[29.8,0.5],[29.82,0.6],[29.84,0.55],[29.86,0.66],[29.88,0.58],[29.9,0.6],[29.92,0.5],[29.94,0.53],[29.96,0.4],[29.98,0.3],[30.01,0.17],[30.04,0.09],[30.08,0.05],[30.2,0.03],[30.346,0.02]];
const gPH_y8=[[29.447,0.005],[29.7,0.01],[29.74,0.04],[29.77,0.11],[29.8,0.2],[29.82,0.25],[29.85,0.28],[29.87,0.26],[29.89,0.27],[29.92,0.22],[29.95,0.17],[29.98,0.1],[30.02,0.05],[30.06,0.02],[30.346,0.01]];
const gPH_y7=[[29.447,0.007],[29.65,0.01],[29.69,0.04],[29.72,0.12],[29.75,0.3],[29.78,0.55],[29.8,0.66],[29.82,0.78],[29.84,0.7],[29.85,0.82],[29.87,0.74],[29.89,0.8],[29.91,0.7],[29.93,0.74],[29.95,0.6],[29.97,0.52],[30.0,0.33],[30.03,0.18],[30.06,0.1],[30.1,0.07],[30.2,0.05],[30.346,0.04]];
// Panel h
const hSL_y7=[[21.802,0.4],[22.2,0.4],[22.49,0.57],[22.57,2],[22.63,4.6],[22.68,6],[22.72,5.5],[22.78,3.7],[22.85,1.4],[22.95,0.57],[23.603,0.4]];
const hSL_y6=[[21.802,1.1],[22.0,1],[22.2,0.9],[22.38,0.86],[22.49,1.15],[22.57,3.2],[22.63,6],[22.68,8.3],[22.74,7.2],[22.8,4.3],[22.87,2],[22.99,1.15],[23.21,1],[23.603,0.86]];
const hSL_y5=[[21.802,4.3],[21.89,4],[22.0,3.6],[22.08,4],[22.19,4.3],[22.3,4],[22.38,3.85],[22.46,4],[22.53,5.2],[22.59,8.9],[22.65,11.2],[22.68,12.1],[22.74,10.6],[22.8,7.2],[22.87,4],[22.95,3.3],[23.04,3.05],[23.12,3.7],[23.2,5.5],[23.25,6],[23.31,5.75],[23.37,6.3],[23.44,5.75],[23.52,5.5],[23.56,5.5],[23.59,7.2],[23.603,11.2]];
const hPL_y7=[[21.694,0],[22.2,0],[22.24,4.2],[22.28,7.4],[22.32,9.5],[22.36,8.4],[22.4,8.4],[22.43,6.3],[22.47,4.2],[22.51,1.5],[22.54,0],[22.9,0],[22.92,3],[22.94,0],[22.998,0]];
const hPL_y6=[[21.694,0],[22.18,0],[22.21,5.3],[22.25,8.4],[22.29,10.5],[22.33,12.6],[22.37,11.6],[22.41,9.9],[22.45,8.4],[22.49,5.3],[22.53,2],[22.57,0],[22.998,0]];
const hPL_y5=[[21.694,6.3],[21.72,3.2],[21.75,0],[21.77,7.4],[21.79,2],[21.81,5.3],[21.84,5.3],[21.87,0],[21.89,5.3],[21.92,8.4],[21.95,5.3],[21.98,7.4],[22.01,5.3],[22.05,8.4],[22.1,10.5],[22.16,11.6],[22.2,19],[22.24,16.8],[22.26,13.7],[22.3,11.6],[22.34,12.6],[22.38,15.8],[22.42,14.7],[22.46,12.6],[22.5,13.7],[22.54,11.6],[22.58,14.7],[22.62,11.6],[22.66,9.5],[22.7,8.4],[22.74,7.4],[22.77,9.5],[22.79,6.3],[22.82,7.4],[22.85,5.3],[22.87,6.3],[22.9,3.2],[22.92,6.3],[22.95,12.6],[22.96,5.3],[22.98,0]];
const hPL_y4=[[21.694,0],[21.75,0],[21.79,3.2],[21.81,7.4],[21.84,17.9],[21.87,11.6],[21.9,13.7],[21.93,11.6],[21.96,13.7],[21.99,9.5],[22.02,7.4],[22.08,8.4],[22.13,10.5],[22.18,9.5],[22.24,11.6],[22.29,9.5],[22.34,9.5],[22.4,8.4],[22.45,5.3],[22.5,3.2],[22.55,1],[22.59,0],[22.74,0],[22.77,1.5],[22.79,0],[22.998,0]];
const hPL_b8=[[21.694,0],[21.83,0],[21.84,10.5],[21.88,7.4],[21.92,0],[22.29,0],[22.32,3.2],[22.36,0],[22.87,0],[22.9,3.2],[22.92,4.2],[22.95,12.6],[22.98,14.7],[22.998,26.3]];
const hSH_y7=[[21.812,3],[22.3,3],[22.45,5],[22.52,20],[22.57,70],[22.62,140],[22.67,190],[22.7,198],[22.74,178],[22.78,130],[22.82,80],[22.88,28],[22.95,10],[23.1,6],[23.3,5],[23.606,3]];
const hSH_y6=[[21.812,4],[22.3,5],[22.42,7],[22.48,15],[22.54,70],[22.58,145],[22.64,228],[22.68,268],[22.71,272],[22.75,240],[22.79,180],[22.83,115],[22.89,42],[22.95,15],[23.05,9],[23.2,9],[23.4,6],[23.606,4]];
const hSH_y5=[[21.812,5],[22.15,5],[22.3,10],[22.42,15.7],[22.48,26],[22.54,83.6],[22.58,167],[22.64,256],[22.68,303],[22.71,308],[22.75,272],[22.79,209],[22.83,136],[22.89,52],[22.95,21],[23.05,15.7],[23.17,17.8],[23.28,15.7],[23.4,8.4],[23.606,5]];
const hPH_y7=[[21.698,0.03],[21.98,0.03],[22.05,0.12],[22.1,0.3],[22.16,0.7],[22.19,1.25],[22.23,2.2],[22.27,3.2],[22.31,3.9],[22.35,4.1],[22.38,4.0],[22.41,3.6],[22.44,2.9],[22.47,2.1],[22.49,1.6],[22.52,1.5],[22.55,1.0],[22.58,0.4],[22.61,0.15],[22.74,0.12],[22.991,0.12]];
const hPH_y6=[[21.698,0.04],[21.98,0.04],[22.05,0.16],[22.1,0.4],[22.16,0.92],[22.19,1.64],[22.23,2.87],[22.27,4.1],[22.31,5.1],[22.35,5.53],[22.37,5.42],[22.4,4.9],[22.44,3.9],[22.47,2.87],[22.49,1.84],[22.51,1.74],[22.54,1.33],[22.58,0.51],[22.61,0.2],[22.74,0.16],[22.991,0.2]];
const hPH_y5=[[21.698,0.04],[21.98,0.04],[22.05,0.15],[22.1,0.38],[22.16,0.88],[22.19,1.58],[22.23,2.75],[22.27,3.95],[22.31,4.9],[22.33,5.1],[22.35,5.2],[22.37,5.3],[22.4,4.8],[22.44,3.7],[22.47,2.7],[22.49,1.7],[22.51,1.6],[22.54,1.2],[22.58,0.45],[22.61,0.18],[22.74,0.14],[22.991,0.15]];
const hPH_y4=[[21.698,0.02],[21.98,0.02],[22.05,0.08],[22.1,0.2],[22.16,0.45],[22.19,0.8],[22.23,1.45],[22.27,2.1],[22.31,2.55],[22.34,2.66],[22.37,2.6],[22.4,2.2],[22.44,1.6],[22.47,1.2],[22.5,0.8],[22.53,0.5],[22.56,0.25],[22.6,0.1],[22.991,0.05]];
const hPH_b8=[[21.698,0.01],[22.2,0.02],[22.35,0.06],[22.5,0.03],[22.991,0.02]];

// ---------------- TEXT ----------------
const PANEL_TEXT = [
 {L:'a',lx:28,ly:41,title:['YGDGYTDSSQLK','Jcr4S01081.10'],tx:426,ty:[50,85],srm:[281,131],prm:[626,131],light:[43,165],heavy:[38,369]},
 {L:'b',lx:845,ly:42,title:['LEILAAQSSPHLANR','Jcr4S03333.20'],tx:1249,ty:[45,80],srm:[1100,125],prm:[1446,125],light:[863,198],heavy:[858,381]},
 {L:'c',lx:15,ly:661,title:['DLNLVEELPYVR','Jcr4S03333.20'],tx:419,ty:[673,709],srm:[271,755],prm:[616,755],light:[33,814],heavy:[28,995]},
 {L:'d',lx:845,ly:665,title:['YSDSYTYSTILK','Jcr4S03853.10'],tx:1236,ty:[668,704],srm:[1091,749],prm:[1436,749],light:[853,813],heavy:[848,995]},
 {L:'e',lx:23,ly:1303,title:['AVLDLFEETSNIGSK','Jcr4S04129.10'],tx:415,ty:[1319,1355],srm:[266,1401],prm:[611,1401],light:[28,1476],heavy:[24,1658]},
 {L:'f',lx:833,ly:1307,title:['NILTWPFQR','Jcr4S06058.10; Jcr4S01881.20'],tx:1236,ty:[1312,1347],srm:[1091,1392],prm:[1436,1392],light:[853,1476],heavy:[848,1658]},
 {L:'g',lx:13,ly:1960,title:['NLIQNIELIDTLR'],tx:411,ty:[1960],srm:[261,2041],prm:[607,2041],light:[23,2122],heavy:[19,2305]},
 {L:'h',lx:838,ly:1954,title:['GTEAFEWLK','Jcr4S01081.20'],tx:1241,ty:[1961,1996],srm:[1091,2042],prm:[1434,2043],light:[853,2129],heavy:[848,2312]}
];

// ---------------- PLOT LAYOUT ----------------
const PLOTS = [
 // a
 {x0:162,x1:400,dom:[10.601,11.365],xs:0.2,y0:303,yT:175.5,ym:50,st:10,u:3,
  S:[['y9',aSL_y9],['y8',aSL_y8],['y7',aSL_y7],['y6',aSL_y6]],leg:[349,386,401,155,23],tri:[10.967,43.7],lab:[10.975,50.2,'11.0'],sm:[[10.656,14.9,'10.7',3]]},
 {x0:511,x1:741,dom:[11.123,11.947],xs:0.2,y0:304,yT:175,ym:300,st:50,u:3,lin:1,
  S:[['y11',aPL_y11],['y10',aPL_y10],['y9',aPL_y9],['y7',aPL_y7],['y6',aPL_y6]],leg:[697.5,725.6,741,141.5,22.8],tri:[11.506,258],lab:[11.53,300,'11.5'],sm:[[11.728,48.8,'11.7',3]]},
 {x0:162.5,x1:392.5,dom:[10.609,11.36],xs:0.2,y0:522,yT:393,ym:250,st:50,u:3,
  S:[['y9',aSH_y9],['y8',aSH_y8],['y7',aSH_y7],['y6',aSH_y6]],tri:[10.967,191.9],lab:[10.988,221.5,'11.0']},
 {x0:511,x1:748.7,dom:[11.119,11.953],xs:0.2,y0:520,yT:398,ym:15,st:5,u:6,
  S:[['y11',aPH_y11],['y10',aPH_y10],['y9',aPH_y9],['y7',aPH_y7],['y6',aPH_y6]],tri:[11.505,13.57],lab:[11.517,15.6,'11.5'],sm:[[11.782,2.2,'11.8',3]]},
 // b
 {x0:992.7,x1:1244,dom:[15.697,16.51],xs:0.2,y0:317.3,yT:187.3,ym:30,st:5,u:3,
  S:[['y8',bSL_y8],['y7',bSL_y7],['y6',bSL_y6]],leg:[1160,1196,1208,195,24.5],tri:[16.039,24.4],lab:[16.047,28.6,'16.1']},
 {x0:1330,x1:1567.6,dom:[14.867,15.959],xs:0.2,y0:316,yT:190.4,ym:800,st:200,u:3,lin:1,
  S:[['y10',bPL_y10],['y9',bPL_y9],['y8',bPL_y8],['y7',bPL_y7],['y6',bPL_y6]],leg:[1515,1548,1561,148,23.4],tri:[15.329,665.6],lab:[15.348,758,'15.4']},
 {x0:992.7,x1:1244,dom:[15.697,16.51],xs:0.2,y0:523,yT:409.6,ym:80,st:20,ya:91,u:3,
  S:[['y8',bSH_y8],['y7',bSH_y7],['y6',bSH_y6]],tri:[16.043,65.6],lab:[16.047,78.7,'16.1']},
 {x0:1323,x1:1567.6,dom:[14.841,15.95],xs:0.2,y0:514.6,yT:390.4,ym:12,st:2,u:6,
  S:[['y10',bPH_y10],['y9',bPH_y9],['y8',bPH_y8],['y7',bPH_y7],['y6',bPH_y6]],tri:[15.265,10.2],lab:[15.348,11.65,'15.3']},
 // c
 {x0:161,x1:408.8,dom:[27.129,28.36],xs:0.2,y0:933.8,yT:803.5,ym:120,st:20,u:3,
  S:[['y8',cSL_y8],['y7',cSL_y7],['y6',cSL_y6],['b8',cSL_b8]],leg:[327,363,380.7,786.8,25.2],tri:[27.649,105],lab:[27.692,120.7,'27.7']},
 {x0:490.6,x1:735.8,dom:[26.906,28.277],xs:0.2,y0:935.8,yT:806.6,ym:400,st:100,u:3,lin:1,
  S:[['y9',cPL_y9],['y8',cPL_y8],['y7',cPL_y7],['y6',cPL_y6],['y4',cPL_y4]],leg:[677,710,725.6,784.8,23.65],tri:[27.543,338.4],lab:[27.606,393.8,'27.6']},
 {x0:153.3,x1:408.8,dom:[27.133,28.365],xs:0.2,y0:1142.5,yT:1011.3,ym:80,st:20,u:3,
  S:[['y8',cSH_y8],['y7',cSH_y7],['y6',cSH_y6],['b8',cSH_b8]],tri:[27.657,69.8],lab:[27.717,80,'27.7']},
 {x0:487,x1:735.8,dom:[26.909,28.3],xs:0.2,y0:1141.3,yT:1036.3,ym:3,st:1,ya:3.65,u:6,lin:1,
  S:[['y9',cPH_y9],['y8',cPH_y8],['y7',cPH_y7],['y6',cPH_y6],['y4',cPH_y4]],tri:[27.543,3.21],lab:[27.629,3.71,'27.6'],sm:[[27.238,0.48,'27.2',4]]},
 // d
 {x0:973.3,x1:1232.4,dom:[18.228,19.81],xs:0.5,y0:928.6,yT:797.5,ym:12,st:2,u:3,
  S:[['y10',dSL_y10],['y8',dSL_y8],['y7',dSL_y7],['y6',dSL_y6]],leg:[1147,1178,1190.5,792,24.5],tri:[18.914,10.43],lab:[18.971,11.89,'19.0'],sm:[[18.446,2.07,'18.4',3]]},
 {x0:1304.4,x1:1573.7,dom:[18.066,19.206],xs:0.2,y0:929,yT:817.4,ym:60,st:20,ya:72,u:3,lin:1,
  S:[['y11',dPL_y11],['y10',dPL_y10],['y9',dPL_y9],['y8',dPL_y8],['y7',dPL_y7]],leg:[1494.5,1525,1540.5,766,24.75],tri:[18.574,62.6],lab:[18.605,72.2,'18.6'],sm:[[18.215,38,'18.2',4]]},
 {x0:979.4,x1:1231.4,dom:[18.205,19.821],xs:0.5,y0:1133.3,yT:999.4,ym:200,st:50,u:3,
  S:[['y10',dSH_y10],['y8',dSH_y8],['y7',dSH_y7],['y6',dSH_y6]],tri:[18.887,148.3],lab:[18.953,176.3,'18.9']},
 {x0:1308,x1:1573.7,dom:[18.064,19.204],xs:0.2,y0:1139.7,yT:1002.6,ym:1.2,st:0.2,u:6,
  S:[['y11',dPH_y11],['y10',dPH_y10],['y9',dPH_y9],['y8',dPH_y8],['y7',dPH_y7]],tri:[18.557,0.967],lab:[18.6,1.106,'18.6']},
 // e
 {x0:161,x1:400,dom:[25.129,26.465],xs:0.2,y0:1594.6,yT:1458.7,ym:100,st:20,u:3,
  S:[['y10',eSL_y10],['y9',eSL_y9],['y8',eSL_y8],['y6',eSL_y6]],leg:[316.8,347.5,362.8,1454.7,25.8],tri:[25.663,88.3],lab:[25.737,102.4,'25.7']},
 {x0:492,x1:733.3,dom:[24.935,26.145],xs:0.2,y0:1593.8,yT:1462.7,ym:1,st:0.2,u:6,
  S:[['y12',ePL_y12],['y11',ePL_y11],['y10',ePL_y10],['y9',ePL_y9],['y8',ePL_y8]],leg:[664.3,695,712.8,1430,25.55],tri:[25.504,0.894],lab:[25.53,1.04,'25.6']},
 {x0:153.3,x1:400,dom:[25.131,26.463],xs:0.2,y0:1803.3,yT:1664.6,ym:30,st:5,u:3,
  S:[['y10',eSH_y10],['y9',eSH_y9],['y8',eSH_y8],['y6',eSH_y6]],tri:[25.661,21.7],lab:[25.738,25.5,'25.7']},
 {x0:477.8,x1:733.3,dom:[24.926,26.155],xs:0.2,y0:1801.3,yT:1664.6,ym:4,st:1,u:6,
  S:[['y12',ePH_y12],['y11',ePH_y11],['y10',ePH_y10],['y9',ePH_y9],['y8',ePH_y8]],tri:[25.484,3.36],lab:[25.565,3.745,'25.5']},
 // f
 {x0:977,x1:1241.6,dom:[26.397,27.805],xs:0.5,y0:1597.8,yT:1469.4,ym:80,st:20,u:3,
  S:[['y7',fSL_y7],['y6',fSL_y6],['y5',fSL_y5],['y4',fSL_y4]],leg:[1160,1188,1203.3,1450.8,25.4],tri:[27.004,73.8],lab:[27.083,85.4,'27.1']},
 {x0:1319.2,x1:1584,dom:[26.107,27.312],xs:0.2,y0:1596.6,yT:1487.3,ym:60,st:20,ya:74,u:3,lin:1,
  S:[['y7',fPL_y7],['y6',fPL_y6],['y5',fPL_y5],['y4',fPL_y4],['b6',fPL_b6]],leg:[1507.3,1540.5,1558.4,1440.8,25.8],tri:[26.568,64.3],lab:[26.649,74.6,'26.6']},
 {x0:985.2,x1:1241.6,dom:[26.398,27.791],xs:0.5,y0:1814.4,yT:1686.4,ym:120,st:20,ya:126.7,u:3,
  S:[['y7',fSH_y7],['y6',fSH_y6],['y5',fSH_y5],['y4',fSH_y4]],tri:[26.998,110.1],lab:[27.054,126.7,'27.1']},
 {x0:1309.5,x1:1584,dom:[26.105,27.313],xs:0.2,y0:1811.6,yT:1677.3,ym:4,st:1,u:6,lin:1,
  S:[['y7',fPH_y7],['y6',fPH_y6],['y5',fPH_y5],['y4',fPH_y4],['b6',fPH_b6]],tri:[26.593,3.41],lab:[26.656,3.88,'26.6']},
 // g
 {x0:147.2,x1:403.7,dom:[29.549,31.009],xs:0.5,y0:2243.9,yT:2104.4,ym:25,st:5,u:3,
  S:[['y10',gSL_y10],['y9',gSL_y9],['y8',gSL_y8],['y7',gSL_y7]],leg:[319.4,355,370.5,2096.5,26.2],tri:[30.165,21.6],lab:[30.253,24.4,'30.2']},
 {x0:497.2,x1:738.4,dom:[29.449,30.349],xs:0.2,y0:2243.9,yT:2104.4,ym:100,st:20,u:3,lin:1,
  S:[['y11',gPL_y11],['y10',gPL_y10],['y9',gPL_y9],['y8',gPL_y8],['y7',gPL_y7]],leg:[674.5,707.7,723,2080.8,26.5],tri:[29.859,85.4],lab:[29.911,97.8,'29.9']},
 {x0:148.2,x1:403.7,dom:[29.555,31.009],xs:0.5,y0:2451.4,yT:2334.3,ym:12,st:4,ya:14.2,u:3,
  S:[['y10',gSH_y10],['y9',gSH_y9],['y8',gSH_y8],['y7',gSH_y7]],tri:[30.18,12.29],lab:[30.238,13.2,'30.2']},
 {x0:492,x1:738.4,dom:[29.447,30.346],xs:0.2,y0:2450.2,yT:2312.7,ym:1.2,st:0.2,u:6,lin:1,
  S:[['y11',gPH_y11],['y10',gPH_y10],['y9',gPH_y9],['y8',gPH_y8],['y7',gPH_y7]],tri:[29.843,1.046],lab:[29.889,1.139,'29.9']},
 // h
 {x0:974.8,x1:1217,dom:[21.802,23.603],xs:0.5,y0:2247.8,yT:2111,ym:20,st:5,u:3,
  S:[['y7',hSL_y7],['y6',hSL_y6],['y5',hSL_y5]],leg:[1147,1175,1190.5,2088.6,28.5],tri:[22.634,12.24],lab:[22.74,14.47,'22.7']},
 {x0:1310.6,x1:1562.5,dom:[21.694,22.998],xs:0.2,y0:2247.8,yT:2135.8,ym:60,st:20,ya:71,u:3,lin:1,
  S:[['y7',hPL_y7],['y6',hPL_y6],['y5',hPL_y5],['y4',hPL_y4],['b8',hPL_b8]],leg:[1494.5,1525,1540.5,2093.7,22.8],tri:[22.268,14.7],sm:[[22.322,20,'22.3',1],[21.86,24.2,'21.9',3]]},
 {x0:983.5,x1:1217,dom:[21.812,23.606],xs:0.5,y0:2462,yT:2349.2,ym:300,st:100,ya:360,u:3,
  S:[['y7',hSH_y7],['y6',hSH_y6],['y5',hSH_y5]],tri:[22.625,315.7],lab:[22.722,339.6,'22.7'],sm:[[23.245,47,'23.2',2]]},
 {x0:1302.9,x1:1562.5,dom:[21.698,22.991],xs:0.2,y0:2458,yT:2342.9,ym:6,st:2,ya:7,u:6,
  S:[['y7',hPH_y7],['y6',hPH_y6],['y5',hPH_y5],['y4',hPH_y4],['b8',hPH_b8]],tri:[22.296,5.67],lab:[22.354,6.39,'22.3']}
];

// ---------------- STYLE ----------------
const COLORS=['#c8267c','#85c440','#3f1d8c','#eba21c','#5f8ff2'];
const SERIF='"Liberation Serif","Times New Roman",Times,serif';
const SANS='"Liberation Sans",Arial,Helvetica,sans-serif';
const INK='#1a1a1a';

const svg=d3.select('#c');
svg.append('rect').attr('width',1594).attr('height',2513).attr('fill','#fff');

PANEL_TEXT.forEach(p=>{
  svg.append('text').attr('x',p.lx).attr('y',p.ly).text(p.L).style('font',`bold 44px ${SERIF}`).attr('fill','#000');
  p.title.forEach((t,i)=>svg.append('text').attr('x',p.tx).attr('y',p.ty[i]).attr('text-anchor','middle').text(t).style('font',`bold 29px ${SERIF}`).attr('fill','#000'));
  [['SRM',p.srm],['PRM',p.prm]].forEach(([t,q])=>svg.append('text').attr('x',q[0]).attr('y',q[1]).attr('text-anchor','middle').text(t).style('font',`bold 30px ${SERIF}`).attr('fill','#000'));
  [['Light',p.light],['Heavy',p.heavy]].forEach(([t,q])=>svg.append('text').attr('x',q[0]).attr('y',q[1]).text(t).style('font',`bold 22px ${SERIF}`).attr('fill','#000'));
});

function ticksIn(dom,step){
  const a=Math.ceil(dom[0]/step-1e-6), b=Math.floor(dom[1]/step+1e-6);
  return d3.range(a,b+1).map(k=>+(k*step).toFixed(4));
}

PLOTS.forEach(P=>{
  const g=svg.append('g');
  const ya=P.ya||P.ym;
  const ppu=(P.y0-P.yT)/P.ym;
  const x=d3.scaleLinear().domain(P.dom).range([P.x0,P.x1]);
  const y=d3.scaleLinear().domain([0,ya]).range([P.y0,P.y0-ya*ppu]);
  const tickFont=`12.5px ${SANS}`;

  // x axis: major + minor
  const xMaj=ticksIn(P.dom,P.xs), xMin=ticksIn(P.dom,P.xs/5);
  const gxm=g.append('g').attr('transform',`translate(0,${P.y0})`)
    .call(d3.axisBottom(x).tickValues(xMin).tickFormat('').tickSizeOuter(0).tickSize(2));
  gxm.select('.domain').remove();
  gxm.selectAll('.tick line').attr('y1',-2).attr('y2',2).attr('stroke',INK);
  const gx=g.append('g').attr('transform',`translate(0,${P.y0})`)
    .call(d3.axisBottom(x).tickValues(xMaj).tickFormat(d=>d.toFixed(1)).tickSizeOuter(0).tickSize(4));
  gx.select('.domain').attr('stroke',INK).attr('stroke-width',1.6);
  gx.selectAll('.tick line').attr('y1',-4).attr('y2',4).attr('stroke',INK).attr('stroke-width',1.3);
  gx.selectAll('.tick text').attr('y',20).attr('dy',0).attr('transform','scale(1,1.2)').style('font',tickFont).attr('fill','#333');

  // y axis
  const yMaj=d3.range(0,P.ym+P.st/2,P.st).map(v=>+v.toFixed(4));
  const yMin=d3.range(0,ya+1e-6,P.st/5).map(v=>+v.toFixed(4));
  const gym=g.append('g').attr('transform',`translate(${P.x0},0)`)
    .call(d3.axisLeft(y).tickValues(yMin).tickFormat('').tickSizeOuter(0).tickSize(2));
  gym.select('.domain').remove();
  gym.selectAll('.tick line').attr('x1',-2).attr('x2',2).attr('stroke',INK);
  const gy=g.append('g').attr('transform',`translate(${P.x0},0)`)
    .call(d3.axisLeft(y).tickValues(yMaj).tickFormat(d3.format('~g')).tickSizeOuter(0).tickSize(4));
  gy.select('.domain').attr('stroke',INK).attr('stroke-width',1.6);
  gy.selectAll('.tick line').attr('x1',-4).attr('x2',4).attr('stroke',INK).attr('stroke-width',1.3);
  gy.selectAll('.tick text').attr('x',-10).attr('dy','0.36em').attr('transform','scale(1,1.2)').style('font',tickFont).attr('fill','#333');
  let maxW=0; gy.selectAll('.tick text').each(function(){maxW=Math.max(maxW,this.getComputedTextLength());});

  // axis titles
  g.append('text').attr('transform',`translate(${(P.x0+P.x1)/2},${P.y0+46}) scale(1,1.15)`)
    .attr('text-anchor','middle').text('Retention Time').style('font',`bold 12.5px ${SANS}`).attr('fill','#222');
  g.append('text').attr('transform',`translate(${P.x0-10-maxW-14},${(P.y0+P.yT)/2}) scale(1,1.15) rotate(-90)`)
    .attr('text-anchor','middle').text(`Intensity (10^${P.u})`).style('font',`bold 12px ${SANS}`).attr('fill','#222');

  // series
  const line=d3.line().x(d=>x(d[0])).y(d=>y(d[1])).curve(P.lin?d3.curveLinear:d3.curveMonotoneX);
  for(let i=P.S.length-1;i>=0;i--){
    g.append('path').datum(P.S[i][1]).attr('d',line).attr('fill','none')
      .attr('stroke',COLORS[i]).attr('stroke-width',P.lin?1.8:2.2).attr('stroke-linejoin','round');
  }

  // small retention labels
  (P.sm||[]).forEach(s=>g.append('text').attr('x',x(s[0])).attr('y',y(s[1])).attr('text-anchor','middle')
    .text(s[2]).style('font',`10.5px ${SANS}`).attr('fill',COLORS[s[3]]).attr('opacity',0.85));

  // apex marker and label
  if(P.tri){
    const cx=x(P.tri[0]), cy=y(P.tri[1]);
    g.append('path').attr('d',`M${cx-6},${cy-4.5}L${cx+6},${cy}L${cx-6},${cy+4.5}Z`).attr('fill','#000');
  }
  if(P.lab){
    g.append('text').attr('x',x(P.lab[0])).attr('y',y(P.lab[1])).attr('text-anchor','middle')
      .text(P.lab[2]).style('font',`bold 22px ${SERIF}`).attr('fill','#000');
  }

  // legend
  if(P.leg){
    const [lx1,lx2,tx,ly,dy]=P.leg;
    P.S.forEach((s,i)=>{
      const yy=ly+i*dy;
      g.append('line').attr('x1',lx1).attr('x2',lx2).attr('y1',yy).attr('y2',yy).attr('stroke',COLORS[i]).attr('stroke-width',3);
      g.append('text').attr('x',tx).attr('y',yy+6.5).text(s[0]).style('font',`18px ${SANS}`).attr('fill','#222');
    });
  }
});
</script>
</body></html>
